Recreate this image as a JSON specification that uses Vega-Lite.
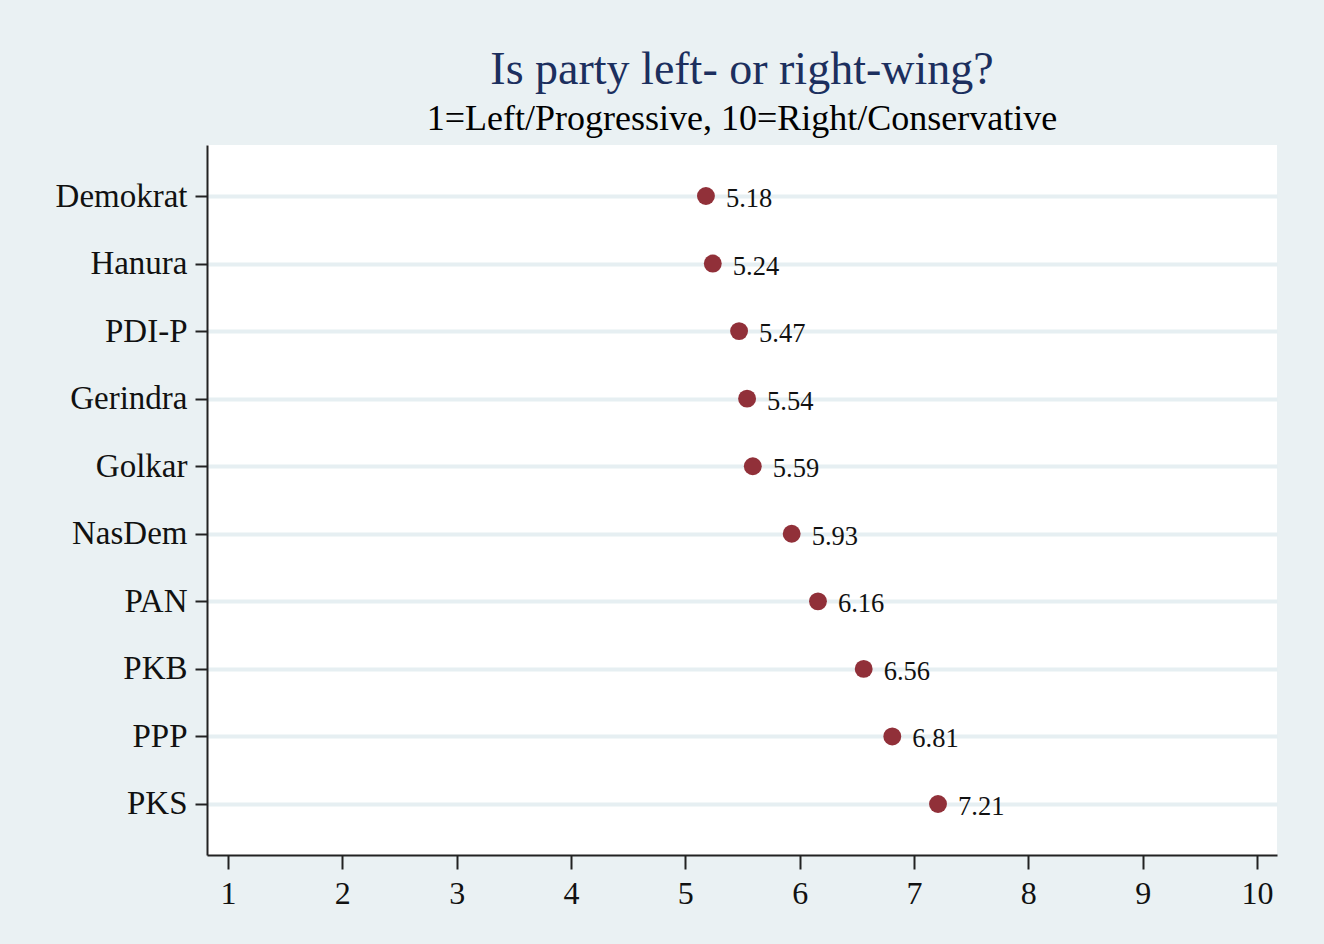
{
  "$schema": "https://vega.github.io/schema/vega-lite/v6.json",
  "autosize": {"type": "none"},
  "width": 1070,
  "height": 710,
  "padding": {"left": 207, "top": 145, "right": 47, "bottom": 89},
  "background": "#EAF1F3",
  "title": {
    "text": "Is party left- or right-wing?",
    "subtitle": "1=Left/Progressive, 10=Right/Conservative",
    "font": "Liberation Serif",
    "fontSize": 46,
    "fontWeight": "normal",
    "color": "#1C2F5E",
    "subtitleFont": "Liberation Serif",
    "subtitleFontSize": 36,
    "subtitleColor": "#000000",
    "subtitlePadding": 8,
    "anchor": "middle",
    "offset": 7
  },
  "config": {
    "view": {"fill": "#FFFFFF", "stroke": null},
    "axis": {"labelFont": "Liberation Serif", "labelColor": "#111111", "domainColor": "#222222", "tickColor": "#222222", "domainWidth": 2, "tickWidth": 2}
  },
  "data": {
    "values": [
      {"party": "Demokrat", "score": 5.18},
      {"party": "Hanura", "score": 5.24},
      {"party": "PDI-P", "score": 5.47},
      {"party": "Gerindra", "score": 5.54},
      {"party": "Golkar", "score": 5.59},
      {"party": "NasDem", "score": 5.93},
      {"party": "PAN", "score": 6.16},
      {"party": "PKB", "score": 6.56},
      {"party": "PPP", "score": 6.81},
      {"party": "PKS", "score": 7.21}
    ]
  },
  "encoding": {
    "y": {
      "field": "party",
      "type": "nominal",
      "sort": null,
      "scale": {"type": "point", "padding": 0.755},
      "axis": {"title": null, "labelFontSize": 33, "labelPadding": 8, "tickSize": 12, "grid": true, "gridColor": "#E6EFF2", "gridWidth": 4}
    },
    "x": {
      "field": "score",
      "type": "quantitative",
      "scale": {"domain": [0.816, 10.175], "nice": false, "zero": false},
      "axis": {"title": null, "values": [1, 2, 3, 4, 5, 6, 7, 8, 9, 10], "labelFontSize": 32, "tickSize": 14, "labelPadding": 9, "grid": false, "labelFlush": false}
    }
  },
  "layer": [
    {"mark": {"type": "point", "filled": true, "shape": "circle", "size": 320, "color": "#913039", "opacity": 1}},
    {"mark": {"type": "text", "align": "left", "baseline": "middle", "dx": 20, "dy": 3, "font": "Liberation Serif", "fontSize": 26.5, "color": "#111111"}, "encoding": {"text": {"field": "score", "type": "quantitative", "format": ".2f"}}}
  ]
}
